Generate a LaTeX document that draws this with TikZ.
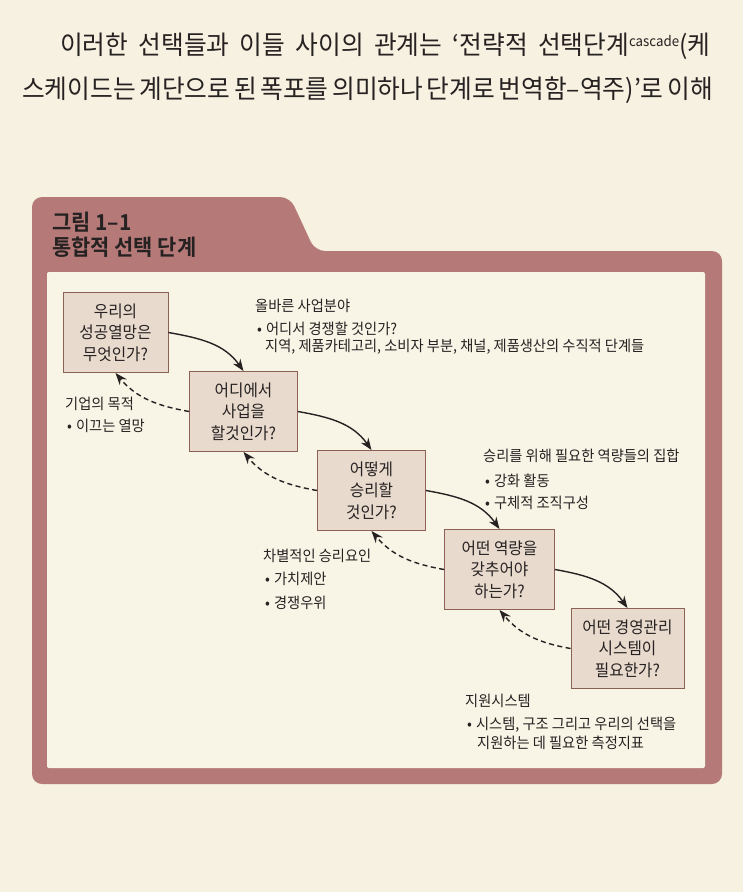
\documentclass[tikz,border=0pt]{standalone}
\usepackage{fontspec}
\setmainfont{Noto Sans CJK KR}[FakeStretch=0.95, BoldFont={Noto Sans CJK KR Bold}]
\usetikzlibrary{positioning, arrows.meta}
\definecolor{paper}{RGB}{246,241,224}
\definecolor{inner}{RGB}{248,244,230}
\definecolor{panel}{RGB}{181,122,120}
\definecolor{boxfill}{RGB}{233,218,206}
\definecolor{boxline}{RGB}{140,96,84}
\definecolor{ink}{RGB}{38,34,34}
\newcommand{\itm}{\hspace*{2pt}\textbullet\hspace{4pt}}
\tikzset{
    >={Stealth[length=12pt, width=9pt]}, % arrow heads
    stage/.style={draw=boxline, fill=boxfill, line width=0.9pt, minimum width=108pt, minimum height=80pt, align=center, text=ink, font=\fontsize{16.5}{21.5}\selectfont}, % the five questions
    note/.style={anchor=north west, align=left, inner sep=0pt, text=ink, font=\fontsize{15}{17}\selectfont}, % side remarks
    forward/.style={->, line width=1.4pt, draw=ink},
    backward/.style={->, line width=1.4pt, draw=ink, dash pattern=on 5pt off 3.5pt},
}
\begin{document}
\begin{tikzpicture}[x=1pt, y=-1pt, node distance=79pt and 128pt, on grid]
    % Pagina
    \fill[paper] (0,0) rectangle (743,892);
    \useasboundingbox (0,0) rectangle (743,892);
    \node[anchor=west, inner sep=0pt, text=ink, font=\fontsize{26}{26}\selectfont] (line1) at (60,46)
        {\makebox[650pt][s]{이러한 선택들과 이들 사이의 관계는 ‘전략적 선택단계\raisebox{8pt}{\fontsize{14}{14}\selectfont cascade}(케}};
    \node[anchor=west, inner sep=0pt, text=ink, font=\fontsize{26}{26}\selectfont] (line2) at (22,90)
        {\makebox[688pt][s]{스케이드는 계단으로 된 폭포를 의미하나 단계로 번역함–역주)’로 이해}};

    % Cartella
    \fill[panel, rounded corners=10pt] (32,784) -- (32,197) -- (290,197) -- (315,251) -- (722,251) -- (722,784) -- cycle;
    \fill[inner, rounded corners=2pt] (47,272) rectangle (705,768);
    \node[anchor=west, inner sep=0pt, text=ink, font=\bfseries\fontsize{22}{22}\selectfont] (fignum) at (52,222) {그림 1–1};
    \node[anchor=west, inner sep=0pt, text=ink, font=\bfseries\fontsize{22}{22}\selectfont] (figtitle) at (52,247) {통합적 선택 단계};

    % Domande
    \node[stage, minimum width=105pt] (b1) at (115.5,332.5) {우리의\\성공열망은\\무엇인가?};
    \node[stage] (b2) [below right=of b1] {어디에서\\사업을\\할것인가?};
    \node[stage] (b3) [below right=of b2] {어떻게\\승리할\\것인가?};
    \node[stage, minimum width=110pt] (b4) [below right=of b3] {어떤 역량을\\갖추어야\\하는가?};
    \node[stage, minimum width=113pt] (b5) [below right=of b4] {어떤 경영관리\\시스템이\\필요한가?};

    % Note
    \node[note] (wherenote) at (255,298.5) {올바른 사업분야\\[6pt]\itm 어디서 경쟁할 것인가?\\\hspace*{10pt}지역, 제품카테고리, 소비자 부분, 채널, 제품생산의 수직적 단계들};
    \node[note] (aimnote) at (65,396.5) {기업의 목적\\[5pt]\itm 이끄는 열망};
    \node[note] (winnote) at (483,448.5) {승리를 위해 필요한 역량들의 집합\\[8pt]\itm 강화 활동\\[5pt]\itm 구체적 조직구성};
    \node[note] (edgenote) at (263,548.5) {차별적인 승리요인\\[6pt]\itm 가치제안\\[7pt]\itm 경쟁우위};
    \node[note] (supportnote) at (465,693.5) {지원시스템\\[6pt]\itm 시스템, 구조 그리고 우리의 선택을\\[2pt]\hspace*{12pt}지원하는 데 필요한 측정지표};

    % Frecce
    \path
        (b1.east) edge[forward, out=-10, in=125] (b2.north)
        (b2.east) edge[forward, out=-10, in=125] (b3.north)
        (b3.east) edge[forward, out=-10, in=125] (b4.north)
        (b4.east) edge[forward, out=-10, in=125] (b5.north)
        (b2.west) edge[backward, out=170, in=-50] (b1.south)
        (b3.west) edge[backward, out=170, in=-50] (b2.south)
        (b4.west) edge[backward, out=170, in=-50] (b3.south)
        (b5.west) edge[backward, out=170, in=-50] (b4.south);
\end{tikzpicture}
\end{document}
